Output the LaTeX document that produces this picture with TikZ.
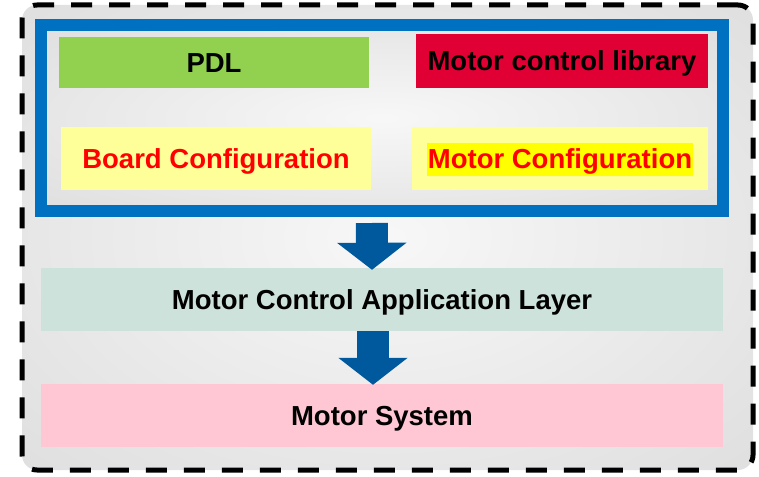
\documentclass[tikz,border=0pt]{standalone}
\usepackage{fontspec}
\setmainfont{Liberation Sans}
\usetikzlibrary{arrows.meta}

\definecolor{bggray}{HTML}{DCDCDC}
\definecolor{frameblue}{HTML}{0070C0}
\definecolor{arrowblue}{HTML}{00599D}
\definecolor{pdlgreen}{HTML}{92D050}
\definecolor{libred}{HTML}{E00034}
\definecolor{cfgyellow}{HTML}{FFFF99}
\definecolor{cfgred}{HTML}{FF0000}
\definecolor{hlyellow}{HTML}{FFFF00}
\definecolor{appteal}{HTML}{CDE2DB}
\definecolor{syspink}{HTML}{FFC7D3}

\pgfdeclareradialshading{bgshade}{\pgfpoint{0bp}{0bp}}{%
  color(0bp)=(white!97!black); color(40bp)=(bggray); color(50bp)=(bggray)}

\begin{document}
\begin{tikzpicture}[x=1pt,y=-1pt]

  \tikzset{
    layer/.style={inner sep=0pt, text height=20pt, text depth=0pt,
      font=\fontsize{27.5}{30}\selectfont\bfseries},
    cfgbox/.style={layer, fill=cfgyellow, text=cfgred, minimum height=63pt},
    widebox/.style={layer, minimum width=682pt, minimum height=63pt},
    downarrow/.style={draw=arrowblue, line width=32pt,
      -{Triangle[width=68pt,length=27pt]}},
  }

  \useasboundingbox (0,0) rectangle (759,476);

  \node[draw, dash pattern=on 21pt off 17pt, line width=5pt, rounded corners=15pt,
    shading=bgshade, minimum width=731pt, minimum height=465pt] (outer) at (387.5,237.5) {};

  \node[draw=frameblue, line width=12pt, shading=bgshade,
    minimum width=681.5pt, minimum height=186pt] (frame) at (381.75,118) {};

  \node[layer, fill=pdlgreen, minimum width=310pt, minimum height=51pt] (pdl) at (214,62.5) {PDL};
  \node[layer, fill=libred, minimum width=292pt, minimum height=54pt] (mclib) at (562,61) {Motor control library};
  \node[cfgbox, minimum width=310pt] (boardcfg) at (216,158.5) {Board Configuration};
  \node[cfgbox, minimum width=296pt] (motorcfg) at (560,158.5)
    {\fboxsep=0.5pt\colorbox{hlyellow}{\rule[-7pt]{0pt}{32pt}Motor Configuration}};

  \node[widebox, fill=appteal] (app) at (382,299.5) {Motor Control Application Layer};
  \node[widebox, fill=syspink] (sys) at (382,415.5) {Motor System};

  \draw[downarrow, shorten <=6pt, shorten >=-2pt] ([xshift=-10pt]frame.south) -- ([xshift=-10pt]app.north);
  \draw[downarrow, shorten >=-1pt] ([xshift=-9pt]app.south) -- ([xshift=-9pt]sys.north);

\end{tikzpicture}
\end{document}
